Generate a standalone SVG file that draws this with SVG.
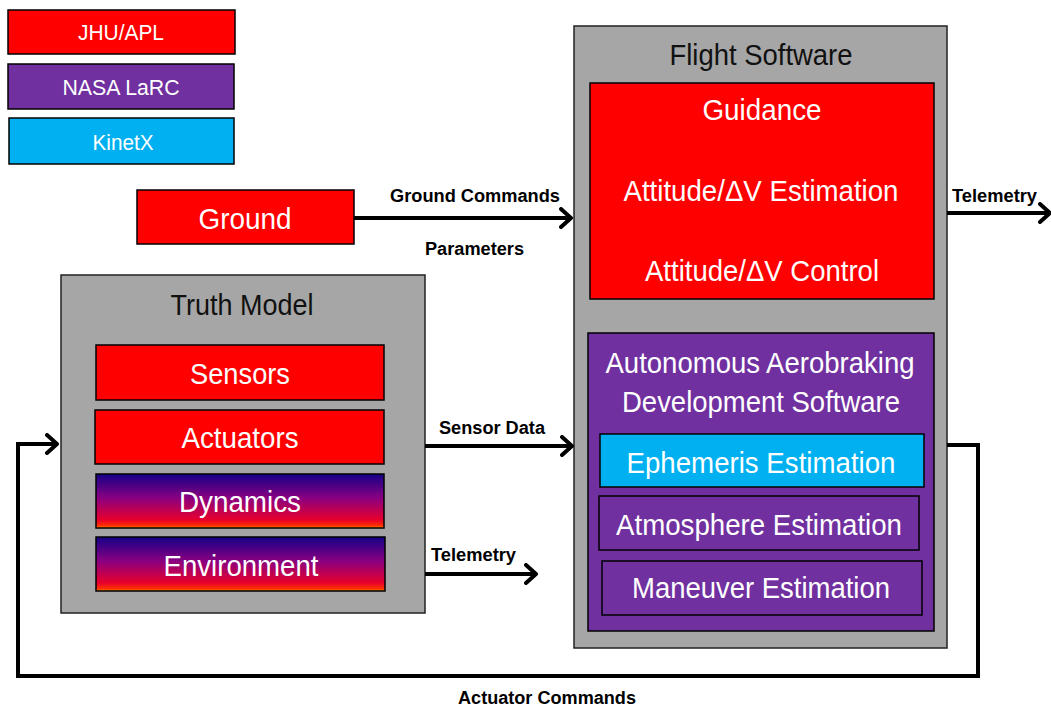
<svg xmlns="http://www.w3.org/2000/svg" width="1051" height="707" viewBox="0 0 1051 707">
<defs>
<linearGradient id="grad" x1="0" y1="0" x2="0" y2="1">
<stop offset="0" stop-color="#150088"/>
<stop offset="0.45" stop-color="#8a0080"/>
<stop offset="0.85" stop-color="#e8002c"/>
<stop offset="0.96" stop-color="#ff3000"/>
<stop offset="1" stop-color="#ff9000"/>
</linearGradient>
<marker id="chev" viewBox="0 0 14 22" refX="12" refY="11" markerWidth="14" markerHeight="22" markerUnits="userSpaceOnUse" orient="auto">
<path d="M2,2 L12,11 L2,20" fill="none" stroke="#000" stroke-width="4" stroke-linecap="round" stroke-linejoin="round"/>
</marker>
</defs>
<style>
.box{stroke:#000;stroke-width:1.5}
.red{fill:#ff0000}
.pur{fill:#7030a0}
.cyan{fill:#00b0f0}
.gray{fill:#a6a6a6;stroke:#222;stroke-width:1.5}
.grad{fill:url(#grad)}
.t{font-family:"Liberation Sans",Arial,sans-serif;font-size:30px;fill:#fff;text-anchor:middle}
.h{font-family:"Liberation Sans",Arial,sans-serif;font-size:30px;fill:#111;text-anchor:middle}
.lg{font-family:"Liberation Sans",Arial,sans-serif;font-size:22px;fill:#fff;text-anchor:middle}
.lbl{font-family:"Liberation Sans",Arial,sans-serif;font-size:18px;font-weight:bold;fill:#000}
.c{fill:none;stroke:#000;stroke-width:4}
</style>

<g id="legend-jhuapl"><rect class="box red" x="8" y="10" width="227" height="44"/><text class="lg" x="121" y="40" textLength="86" lengthAdjust="spacingAndGlyphs">JHU/APL</text></g>
<g id="legend-nasalarc"><rect class="box pur" x="8" y="64" width="226" height="45"/><text class="lg" x="121" y="95" textLength="117" lengthAdjust="spacingAndGlyphs">NASA LaRC</text></g>
<g id="legend-kinetx"><rect class="box cyan" x="9" y="118" width="225" height="46"/><text class="lg" x="123" y="150" textLength="61" lengthAdjust="spacingAndGlyphs">KinetX</text></g>

<g id="ground"><rect class="box red" x="137" y="190" width="217" height="54"/><text class="t" x="245" y="229" textLength="93" lengthAdjust="spacingAndGlyphs">Ground</text></g>

<g id="flight-software">
<rect class="gray" x="574" y="26" width="373" height="622"/>
<text class="h" x="761" y="65" textLength="183" lengthAdjust="spacingAndGlyphs">Flight Software</text>
</g>
<g id="gnc">
<rect class="box red" x="590" y="83" width="344" height="216"/>
<text class="t" x="762" y="120" textLength="119" lengthAdjust="spacingAndGlyphs">Guidance</text>
<text class="t" x="761" y="201" textLength="275" lengthAdjust="spacingAndGlyphs">Attitude/ΔV Estimation</text>
<text class="t" x="762" y="281" textLength="234" lengthAdjust="spacingAndGlyphs">Attitude/ΔV Control</text>
</g>
<g id="aads">
<rect class="box pur" x="588" y="333" width="346" height="298"/>
<text class="t" x="760" y="373" textLength="309" lengthAdjust="spacingAndGlyphs">Autonomous Aerobraking</text>
<text class="t" x="761" y="412" textLength="278" lengthAdjust="spacingAndGlyphs">Development Software</text>
</g>
<g id="ephemeris"><rect class="box cyan" x="600" y="434" width="324" height="53"/><text class="t" x="761" y="473" textLength="269" lengthAdjust="spacingAndGlyphs">Ephemeris Estimation</text></g>
<g id="atmosphere"><rect class="box pur" x="599" y="496" width="320" height="54"/><text class="t" x="759" y="535" textLength="286" lengthAdjust="spacingAndGlyphs">Atmosphere Estimation</text></g>
<g id="maneuver"><rect class="box pur" x="602" y="561" width="320" height="54"/><text class="t" x="761" y="598" textLength="258" lengthAdjust="spacingAndGlyphs">Maneuver Estimation</text></g>

<g id="truth-model">
<rect class="gray" x="61" y="275" width="364" height="338"/>
<text class="h" x="242" y="315" textLength="143" lengthAdjust="spacingAndGlyphs">Truth Model</text>
</g>
<g id="sensors"><rect class="box red" x="96" y="345" width="288" height="55"/><text class="t" x="240" y="384" textLength="100" lengthAdjust="spacingAndGlyphs">Sensors</text></g>
<g id="actuators"><rect class="box red" x="95" y="410" width="289" height="54"/><text class="t" x="240" y="448" textLength="117" lengthAdjust="spacingAndGlyphs">Actuators</text></g>
<g id="dynamics"><rect class="box grad" x="96" y="474" width="288" height="54"/><text class="t" x="240" y="512" textLength="122" lengthAdjust="spacingAndGlyphs">Dynamics</text></g>
<g id="environment"><rect class="box grad" x="96" y="537" width="289" height="54"/><text class="t" x="241" y="576" textLength="155" lengthAdjust="spacingAndGlyphs">Environment</text></g>

<g id="connectors">
<line class="c" x1="354" y1="218" x2="571" y2="218" marker-end="url(#chev)"/>
<line class="c" x1="425" y1="446" x2="572" y2="446" marker-end="url(#chev)"/>
<line class="c" x1="425" y1="574" x2="536" y2="574" marker-end="url(#chev)"/>
<line class="c" x1="947" y1="213" x2="1050" y2="213" marker-end="url(#chev)"/>
<polyline class="c" points="947,445 978,445 978,676 18,676 18,444 57,444" marker-end="url(#chev)"/>
<text class="lbl" x="390" y="202" textLength="170" lengthAdjust="spacingAndGlyphs">Ground Commands</text>
<text class="lbl" x="425" y="255" textLength="99" lengthAdjust="spacingAndGlyphs">Parameters</text>
<text class="lbl" x="439" y="434" textLength="106" lengthAdjust="spacingAndGlyphs">Sensor Data</text>
<text class="lbl" x="431" y="561" textLength="85" lengthAdjust="spacingAndGlyphs">Telemetry</text>
<text class="lbl" x="952" y="202" textLength="85" lengthAdjust="spacingAndGlyphs">Telemetry</text>
<text class="lbl" x="458" y="704" textLength="178" lengthAdjust="spacingAndGlyphs">Actuator Commands</text>
</g>
</svg>
